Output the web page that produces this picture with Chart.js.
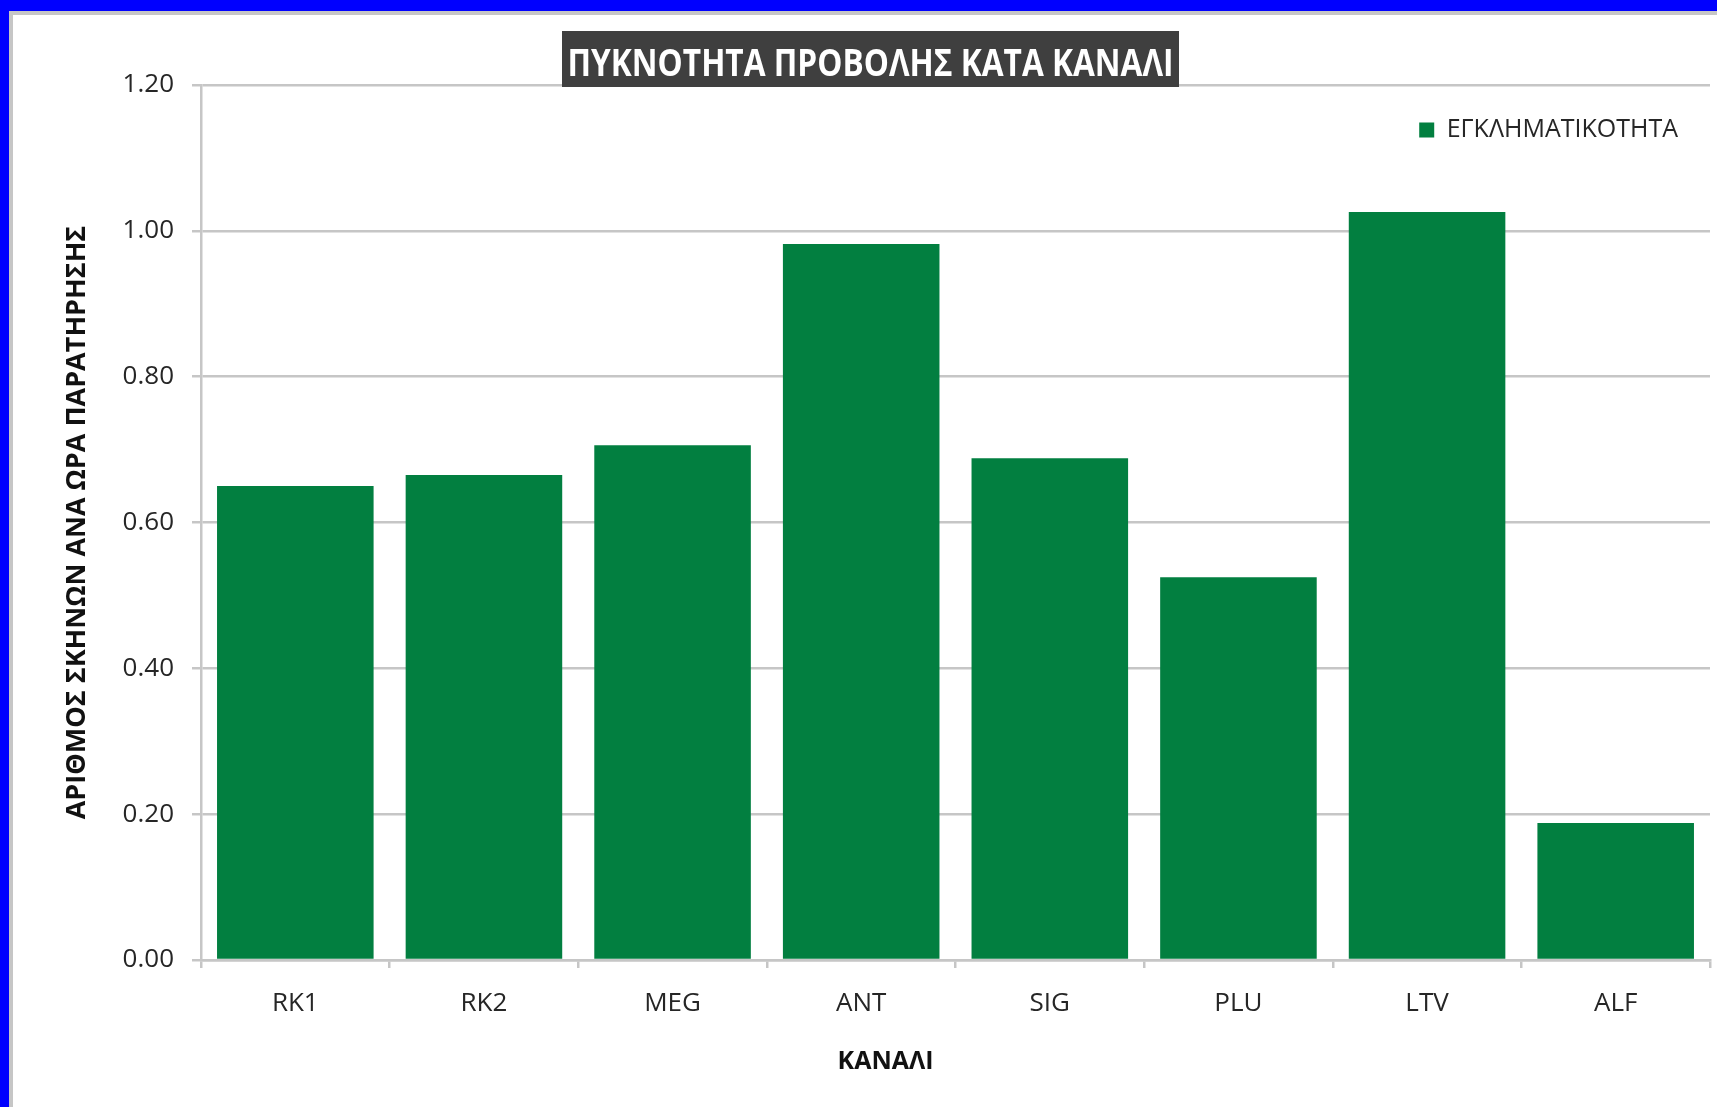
<!DOCTYPE html>
<html>
<head>
<meta charset="utf-8">
<script src="https://cdn.jsdelivr.net/npm/chart.js@4"></script>
<style>
  body { margin: 0; background: #0000ff; overflow: hidden; }
  #wrap {
    position: absolute; left: 9px; top: 11px;
    width: 1704px; height: 1092px;
    background: #fff;
    border-left: 4px solid #c6c6c6;
    border-top: 4px solid #c6c6c6;
  }
  canvas { display: block; }
</style>
</head>
<body>
<div id="wrap"><canvas id="myChart" width="1704" height="1092"></canvas></div>
<script>
const chartTitle = "ΠΥΚΝΟΤΗΤΑ ΠΡΟΒΟΛΗΣ ΚΑΤΑ ΚΑΝΑΛΙ";
const seriesName = "ΕΓΚΛΗΜΑΤΙΚΟΤΗΤΑ";
const yTitle = "ΑΡΙΘΜΟΣ ΣΚΗΝΩΝ ΑΝΑ ΩΡΑ ΠΑΡΑΤΗΡΗΣΗΣ";
const xTitle = "ΚΑΝΑΛΙ";
const channels = ["RK1", "RK2", "MEG", "ANT", "SIG", "PLU", "LTV", "ALF"];
const density = [0.65, 0.665, 0.706, 0.982, 0.688, 0.525, 1.026, 0.188];
const yMin = 0;
const yMax = 1.2;
const yStep = 0.2;

const green = "#027f40";
const gridGray = "#c6c6c6";
const textColor = "#262626";

Chart.defaults.font.family = "'Open Sans', sans-serif";
Chart.defaults.color = textColor;

// title box sits on top of the plot, like the excel one
const titleBox = {
  id: "titleBox",
  afterDraw(chart) {
    const ctx = chart.ctx;
    ctx.save();
    ctx.fillStyle = "#3f3f3f";
    ctx.fillRect(549, 16, 617, 56);
    ctx.font = "bold 38px 'Open Sans'";
    const w = ctx.measureText(chartTitle).width;
    const sx = Math.min(1, 606 / w);
    ctx.translate(857.5, 50);
    ctx.scale(sx, 1);
    ctx.fillStyle = "#ffffff";
    ctx.textAlign = "center";
    ctx.textBaseline = "middle";
    ctx.fillText(chartTitle, 0, 0);
    ctx.restore();
  },
};

// push the legend down into the plot area (top right)
const moveLegend = {
  id: "moveLegend",
  afterLayout(chart) {
    const lg = chart.legend;
    const dy = 115 - (lg.top + 22.5);
    lg.top += dy;
    lg.bottom += dy;
    lg.left -= 22;
    lg.right -= 22;
  },
};

const ctx1 = document.getElementById("myChart").getContext("2d");
const myChart = new Chart(ctx1, {
  type: "bar",
  data: {
    labels: channels,
    datasets: [
      {
        label: seriesName,
        data: density,
        backgroundColor: green,
        borderWidth: 0,
        barPercentage: 0.83,
        categoryPercentage: 1.0,
      },
    ],
  },
  options: {
    responsive: false,
    animation: false,
    layout: {
      padding: { top: 25, left: 48, right: 7, bottom: 0 },
    },
    plugins: {
      legend: {
        display: true,
        position: "top",
        align: "end",
        labels: {
          boxWidth: 15,
          boxHeight: 15,
          padding: 10,
          color: textColor,
          font: { size: 25 },
        },
      },
      title: {
        display: true,
        position: "bottom",
        text: xTitle,
        color: "#111",
        font: { size: 25, weight: "bold" },
        padding: { top: 19, bottom: 30 },
      },
      tooltip: { enabled: false },
    },
    scales: {
      x: {
        afterFit(scale) {
          scale.height = 68;
        },
        grid: {
          offset: true,
          drawOnChartArea: false,
          drawTicks: true,
          tickLength: 8,
          color: gridGray,
          lineWidth: 2.5,
        },
        border: { color: gridGray, width: 2.5 },
        ticks: {
          padding: 20,
          color: textColor,
          font: { size: 26 },
        },
      },
      y: {
        min: yMin,
        max: yMax,
        afterFit(scale) {
          scale.width = 140;
        },
        grid: {
          color: gridGray,
          lineWidth: 2.5,
          drawTicks: true,
          tickLength: 9,
        },
        border: { color: gridGray, width: 2.5 },
        ticks: {
          stepSize: yStep,
          padding: 18,
          color: textColor,
          font: { size: 26 },
          callback: (v) => Number(v).toFixed(2),
        },
        title: {
          display: true,
          text: yTitle,
          color: "#111",
          font: { size: 27, weight: "bold" },
          padding: { top: 0, bottom: 0 },
        },
      },
    },
  },
  plugins: [moveLegend, titleBox],
});
</script>
</body>
</html>
